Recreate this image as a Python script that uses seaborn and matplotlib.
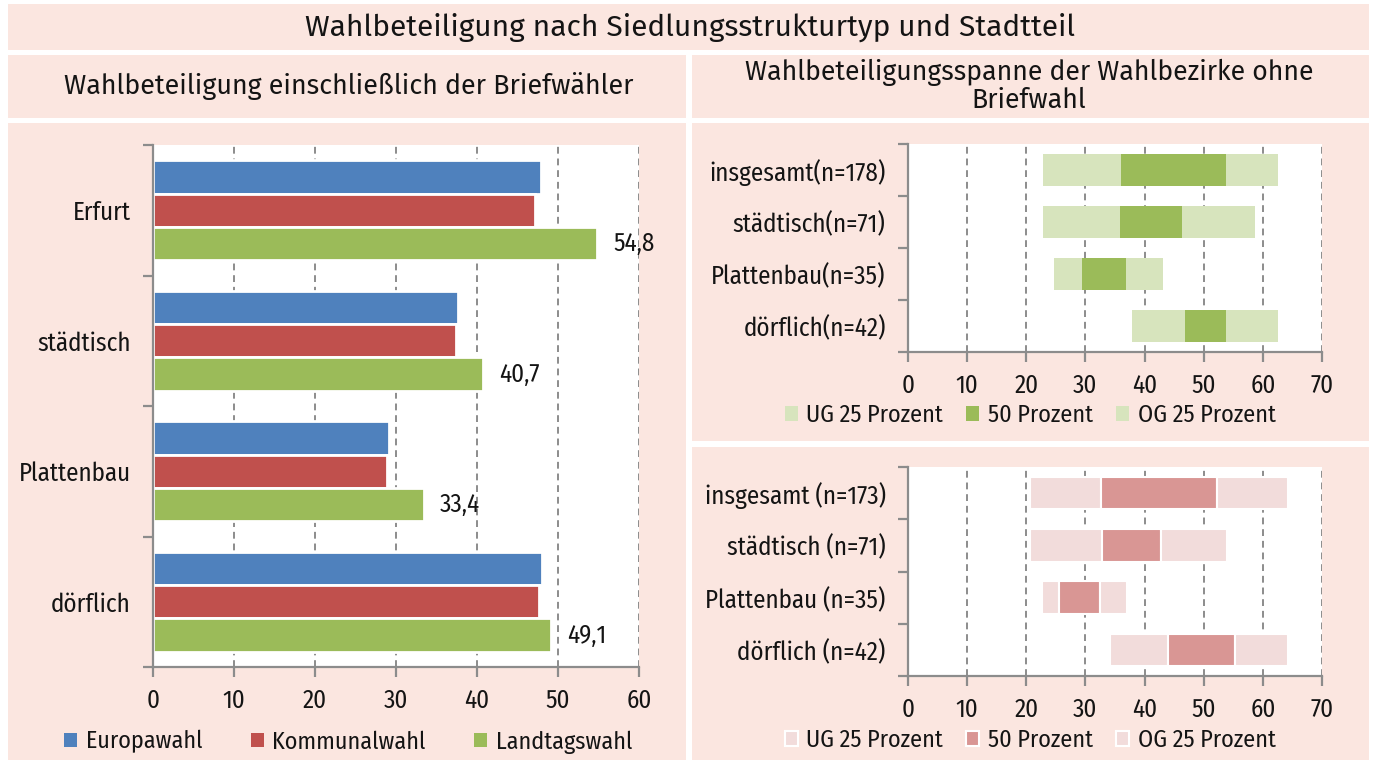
import matplotlib.pyplot as plt
import numpy as np
import pandas as pd
import seaborn as sns
from matplotlib import font_manager
from matplotlib.patches import Patch, Rectangle

# Wahlbeteiligung einschließlich der Briefwähler (Prozent)
gebiete = ["Erfurt", "städtisch", "Plattenbau", "dörflich"]
wahlen = ["Europawahl", "Kommunalwahl", "Landtagswahl"]
europawahl = [47.9, 37.7, 29.1, 48.0]
kommunalwahl = [47.2, 37.4, 28.9, 47.7]
landtagswahl = [54.8, 40.7, 33.4, 49.1]

# Spanne der Wahlbezirke ohne Briefwahl (oben, grün)
gruen_kategorien = ["insgesamt(n=178)", "städtisch(n=71)", "Plattenbau(n=35)", "dörflich(n=42)"]
gruen_ug_start = [22.8, 22.8, 24.7, 37.8]
gruen_mitte_start = [36.0, 35.8, 29.4, 46.8]
gruen_mitte_ende = [53.7, 46.4, 36.9, 53.7]
gruen_og_ende = [62.5, 58.6, 43.1, 62.5]

# Spanne der Wahlbezirke ohne Briefwahl (unten, rot)
rot_kategorien = ["insgesamt (n=173)", "städtisch (n=71)", "Plattenbau (n=35)", "dörflich (n=42)"]
rot_ug_start = [20.7, 20.7, 22.6, 34.2]
rot_mitte_start = [32.7, 32.8, 25.5, 43.9]
rot_mitte_ende = [52.3, 42.7, 32.4, 55.3]
rot_og_ende = [64.3, 53.9, 37.1, 64.3]

legende_spanne = ["UG 25 Prozent", "50 Prozent", "OG 25 Prozent"]

W, H = 1374, 760
PINK = "#fbe6e0"
GRAU = "#8c8c8c"
BLAU, ROT, GRUEN = "#4f81bd", "#c0504d", "#9bbb59"
HELLGRUEN = "#d7e4bd"
MITTELROT, HELLROT = "#d99694", "#f2dcdb"
FS = 18
FS_LEGENDE = 17.4

vorhanden = {f.name for f in font_manager.fontManager.ttflist}


def waehle(kandidaten, ersatz):
    return next((k for k in kandidaten if k in vorhanden), ersatz)


TICKFONT = waehle(["Fira Sans Condensed", "Fira Sans Extra Condensed", "Asap Condensed",
                   "Barlow Semi Condensed", "Archivo Narrow"], "DejaVu Sans")
TITELFONT = waehle(["Fira Sans", "Noto Sans"], "DejaVu Sans")

sns.set_theme(style="white")
plt.rcParams["font.family"] = [TICKFONT, "DejaVu Sans"]
plt.rcParams["text.color"] = "#141414"
plt.rcParams["xtick.color"] = "#141414"
plt.rcParams["ytick.color"] = "#141414"

fig = plt.figure(figsize=(W / 100, H / 100), dpi=100)


def px_box(x0, y0, x1, y1):
    return [x0 / W, 1 - y1 / H, (x1 - x0) / W, (y1 - y0) / H]


# rosa Felder
for x0, y0, x1, y1 in [
    (8, 4, 1369, 50),
    (8, 55, 686, 118),
    (692, 55, 1369, 118),
    (8, 123, 686, 760),
    (692, 123, 1369, 441),
    (692, 447, 1369, 760),
]:
    b = px_box(x0, y0, x1, y1)
    fig.add_artist(Rectangle((b[0], b[1]), b[2], b[3], transform=fig.transFigure,
                             facecolor=PINK, edgecolor="none", zorder=0))

titel_stil = dict(ha="center", va="center", family=[TITELFONT, "DejaVu Sans"], weight="normal")
fig.text(690 / W, 1 - 27 / H, "Wahlbeteiligung nach Siedlungsstrukturtyp und Stadtteil",
         fontsize=21.5, **titel_stil)
fig.text(349 / W, 1 - 86 / H, "Wahlbeteiligung einschließlich der Briefwähler",
         fontsize=19.4, **titel_stil)
fig.text(1029 / W, 1 - 86 / H, "Wahlbeteiligungsspanne der Wahlbezirke ohne\nBriefwahl",
         fontsize=19.2, linespacing=1.02, **titel_stil)


def style_axes(ax, xmax, n):
    ax.set_facecolor("white")
    ax.set_zorder(1)
    ax.set_xlim(0, xmax)
    ax.set_xticks(range(0, xmax + 1, 10))
    ax.set_ylim(n - 0.5, -0.5)
    ax.set_yticks(range(n))
    ax.set_yticks(np.arange(-0.5, n), minor=True)
    ax.grid(axis="x", color=GRAU, linestyle=(0, (3.5, 2.5)), linewidth=1.4)
    ax.grid(axis="y", visible=False)
    ax.set_axisbelow(True)
    for side in ["top", "right"]:
        ax.spines[side].set_visible(False)
    for side in ["left", "bottom"]:
        ax.spines[side].set_color(GRAU)
        ax.spines[side].set_linewidth(1.6)
    ax.tick_params(axis="y", which="major", length=0, pad=16, labelsize=FS)
    ax.tick_params(axis="y", which="minor", length=7, width=1.6, color=GRAU, left=True)
    ax.tick_params(axis="x", length=7, width=1.6, color=GRAU, bottom=True,
                   pad=8, labelsize=FS)
    ax.set_xlabel("")
    ax.set_ylabel("")


legenden_stil = dict(loc="center", ncol=3, frameon=False, fontsize=FS_LEGENDE,
                     handlelength=0.55, handleheight=0.55, handletextpad=0.35)

# linkes Diagramm
ax_l = fig.add_axes(px_box(153, 145, 639, 667))
df = pd.DataFrame({
    "Gebiet": gebiete * 3,
    "Wahl": np.repeat(wahlen, len(gebiete)),
    "Wert": europawahl + kommunalwahl + landtagswahl,
})
sns.barplot(data=df, x="Wert", y="Gebiet", hue="Wahl", order=gebiete, hue_order=wahlen,
            palette=[BLAU, ROT, GRUEN], saturation=1, width=0.77, edgecolor="white",
            linewidth=2, legend=False, ax=ax_l)
ax_l.bar_label(ax_l.containers[2],
               labels=[f"{v:.1f}".replace(".", ",") for v in landtagswahl],
               padding=12, fontsize=FS)
style_axes(ax_l, 60, len(gebiete))
fig.legend(handles=[Patch(facecolor=c, edgecolor="none") for c in [BLAU, ROT, GRUEN]],
           labels=wahlen, bbox_to_anchor=(348 / W, 1 - 742 / H), columnspacing=2.0,
           **legenden_stil)


def draw_spanne(ax, kategorien, ug_start, mitte_start, mitte_ende, og_ende,
                hell, dunkel, kante, hoehe):
    y = np.arange(len(kategorien))
    ug_start = np.array(ug_start)
    mitte_start = np.array(mitte_start)
    mitte_ende = np.array(mitte_ende)
    og_ende = np.array(og_ende)
    lw = 1.5 if kante != "none" else 0
    ax.barh(y, mitte_start - ug_start, left=ug_start, height=hoehe, color=hell,
            edgecolor=kante, linewidth=lw)
    ax.barh(y, mitte_ende - mitte_start, left=mitte_start, height=hoehe, color=dunkel,
            edgecolor=kante, linewidth=lw)
    ax.barh(y, og_ende - mitte_ende, left=mitte_ende, height=hoehe, color=hell,
            edgecolor=kante, linewidth=lw)
    style_axes(ax, 70, len(kategorien))
    ax.set_yticklabels(kategorien)


ax_g = fig.add_axes(px_box(908, 144, 1322, 352))
draw_spanne(ax_g, gruen_kategorien, gruen_ug_start, gruen_mitte_start, gruen_mitte_ende,
            gruen_og_ende, HELLGRUEN, GRUEN, "none", 0.63)
fig.legend(handles=[Patch(facecolor=c, edgecolor="none") for c in [HELLGRUEN, GRUEN, HELLGRUEN]],
           labels=legende_spanne, bbox_to_anchor=(1030 / W, 1 - 415 / H),
           columnspacing=0.95, **legenden_stil)

ax_r = fig.add_axes(px_box(908, 467, 1322, 676))
draw_spanne(ax_r, rot_kategorien, rot_ug_start, rot_mitte_start, rot_mitte_ende,
            rot_og_ende, HELLROT, MITTELROT, "white", 0.62)
fig.legend(handles=[Patch(facecolor=c, edgecolor="white", linewidth=1.5)
                    for c in [HELLROT, MITTELROT, HELLROT]],
           labels=legende_spanne, bbox_to_anchor=(1030 / W, 1 - 740 / H),
           columnspacing=0.95, **legenden_stil)

fig.savefig("out.png", dpi=100)
